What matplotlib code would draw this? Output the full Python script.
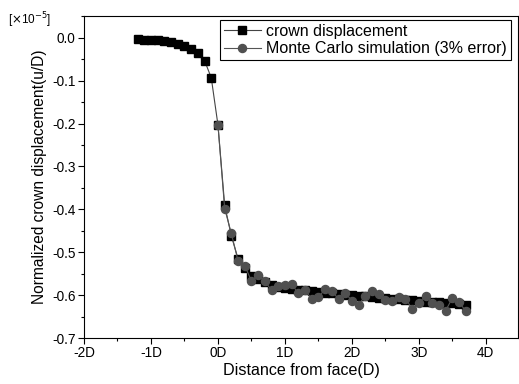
import matplotlib
matplotlib.use("Agg")
import matplotlib.pyplot as plt
from matplotlib.ticker import MultipleLocator, FuncFormatter

plt.rcParams['font.family'] = ['Liberation Sans', 'DejaVu Sans']

# Data (values in units of 1e-5)
crown_x = [-1.2, -1.1, -1.0, -0.9, -0.8, -0.7, -0.6, -0.5, -0.4, -0.3, -0.2, -0.1,
           0.0, 0.1, 0.2, 0.3, 0.4, 0.5, 0.6, 0.7, 0.8, 0.9, 1.0, 1.1, 1.2, 1.3,
           1.4, 1.5, 1.6, 1.7, 1.8, 1.9, 2.0, 2.1, 2.2, 2.3, 2.4, 2.5, 2.6, 2.7,
           2.8, 2.9, 3.0, 3.1, 3.2, 3.3, 3.4, 3.5, 3.6, 3.7]
crown_y = [-0.003, -0.004, -0.005, -0.006, -0.008, -0.010, -0.014, -0.019, -0.026,
           -0.036, -0.053, -0.093, -0.203, -0.390, -0.462, -0.515, -0.537, -0.555,
           -0.563, -0.570, -0.576, -0.580, -0.583, -0.585, -0.587, -0.589, -0.591,
           -0.593, -0.594, -0.596, -0.597, -0.599, -0.600, -0.602, -0.603, -0.604,
           -0.606, -0.607, -0.608, -0.610, -0.611, -0.612, -0.613, -0.615, -0.616,
           -0.617, -0.618, -0.619, -0.621, -0.622]

mc_x = [0.0, 0.1, 0.2, 0.3, 0.4, 0.5, 0.6, 0.7, 0.8, 0.9, 1.0, 1.1, 1.2, 1.3,
        1.4, 1.5, 1.6, 1.7, 1.8, 1.9, 2.0, 2.1, 2.2, 2.3, 2.4, 2.5, 2.6, 2.7,
        2.8, 2.9, 3.0, 3.1, 3.2, 3.3, 3.4, 3.5, 3.6, 3.7]
mc_y = [-0.203, -0.398, -0.456, -0.520, -0.531, -0.567, -0.552, -0.567, -0.589,
        -0.578, -0.576, -0.574, -0.596, -0.588, -0.609, -0.605, -0.586, -0.590,
        -0.609, -0.595, -0.613, -0.622, -0.602, -0.590, -0.597, -0.611, -0.614,
        -0.605, -0.608, -0.632, -0.619, -0.601, -0.618, -0.623, -0.636, -0.607,
        -0.617, -0.637]

x_ticks = [-2, -1, 0, 1, 2, 3, 4]
x_tick_labels = ['-2D', '-1D', '0D', '1D', '2D', '3D', '4D']

fig = plt.figure(figsize=(5.19, 3.84), dpi=100)
ax = fig.add_axes([84/519, 1 - 338/384, (518 - 84)/519, (338 - 16)/384])

ax.plot(crown_x, crown_y, color='#444444', lw=0.8, marker='s', ms=5.2,
        mfc='black', mec='black', label='crown displacement', zorder=2)
ax.plot(mc_x, mc_y, color='#555555', lw=0.8, marker='o', ms=5.8,
        mfc='#505050', mec='#505050', label='Monte Carlo simulation (3% error)', zorder=3)

ax.set_xlim(-2, 4.48)
ax.set_ylim(-0.7, 0.051)
ax.set_xticks(x_ticks)
ax.set_xticklabels(x_tick_labels)
ax.xaxis.set_minor_locator(MultipleLocator(0.5))
ax.yaxis.set_major_locator(MultipleLocator(0.1))
ax.yaxis.set_minor_locator(MultipleLocator(0.05))
ax.yaxis.set_major_formatter(FuncFormatter(lambda v, p: f"{v:.1f}" if abs(v) > 1e-9 else "0.0"))

ax.tick_params(which='major', direction='out', length=4, width=0.8, labelsize=9.8, pad=2)
ax.tick_params(which='minor', direction='out', length=2.5, width=0.8)
for s in ax.spines.values():
    s.set_linewidth(0.8)

ax.set_xlabel('Distance from face(D)', fontsize=11.6, labelpad=2)
ax.set_ylabel('Normalized crown displacement(u/D)', fontsize=11.2, labelpad=4)

fig.text(8/519, 1 - 20/384, r'[$\times$10$^{-5}$]', fontsize=8.5, va='center', ha='left')

leg = ax.legend(loc='upper right', bbox_to_anchor=(1 - 7/434, 1 - 4/322), fontsize=11.5,
                frameon=True, fancybox=False, edgecolor='black', framealpha=1,
                handlelength=2.3, borderpad=0.25, labelspacing=0.15, handletextpad=0.35,
                borderaxespad=0)
leg.get_frame().set_linewidth(0.8)

fig.savefig('out.png', dpi=100)
